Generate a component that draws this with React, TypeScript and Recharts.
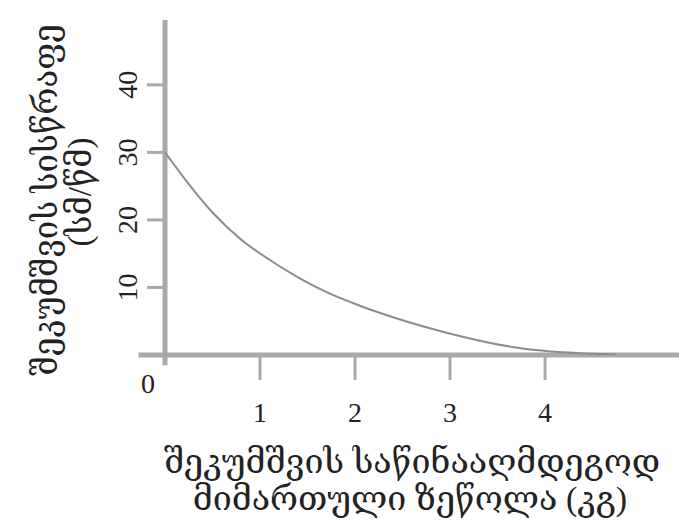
import { LineChart, Line, XAxis, YAxis, ReferenceLine, Label } from 'recharts'

// force applied against compression (kg) vs compression speed (cm/s)
const forceKg = [0, 0.25, 0.5, 0.8, 1.1, 1.4, 1.7, 2.05, 2.4, 2.75, 3.1, 3.45, 3.8, 4.2, 4.75]
const speedCm = [30, 25.3, 21.1, 17.1, 14.1, 11.5, 9.3, 7.3, 5.6, 4.1, 2.8, 1.7, 0.9, 0.4, 0.05]
const xTicks = [0, 1, 2, 3, 4]
const yTicks = [10, 20, 30, 40]
const xTitle = ['შეკუმშვის საწინააღმდეგოდ', 'მიმართული ზეწოლა (კგ)']
const yTitle = ['შეკუმშვის სისწრაფე', '(სმ/წმ)']

const data = forceKg.map((f, i) => ({ f, v: speedCm[i] }))

const FONT = "'Liberation Serif', 'DejaVu Serif', serif"
const AXIS = '#a9a9a9'
const INK = '#222'

const XTick = ({ x, y, payload }: any) => {
  if (payload.value === 0) {
    return (
      <text x={x - 17} y={y + 28} textAnchor="middle" dominantBaseline="central" fontSize={28} fill={INK} fontFamily={FONT}>
        0
      </text>
    )
  }
  return (
    <g>
      <line x1={x} x2={x} y1={y} y2={y + 25} stroke={AXIS} strokeWidth={3} />
      <text x={x} y={y + 57} textAnchor="middle" dominantBaseline="central" fontSize={28} fill={INK} fontFamily={FONT}>
        {payload.value}
      </text>
    </g>
  )
}

const YTick = ({ x, y, payload }: any) => (
  <g>
    <line x1={x - 18} x2={x} y1={y} y2={y} stroke={AXIS} strokeWidth={3} />
    <text
      x={x - 37}
      y={y}
      textAnchor="middle"
      dominantBaseline="central"
      fontSize={28}
      fill={INK}
      fontFamily={FONT}
      transform={`rotate(-90 ${x - 37} ${y})`}
    >
      {payload.value}
    </text>
  </g>
)

const XTitle = () => (
  <text textAnchor="middle" fontSize={34} fill={INK} fontFamily={FONT}>
    <tspan x={412} y={473}>{xTitle[0]}</tspan>
    <tspan x={410} y={510}>{xTitle[1]}</tspan>
  </text>
)

const YTitle = () => (
  <text textAnchor="middle" fontSize={33} fill={INK} fontFamily={FONT} transform="rotate(-90)">
    <tspan x={-200} y={57}>{yTitle[0]}</tspan>
    <tspan x={-192} y={91}>{yTitle[1]}</tspan>
  </text>
)

export default function App() {
  return (
    <div style={{ position: 'absolute', left: 0, top: 0, background: '#fff' }}>
      <LineChart width={679} height={530} data={data} margin={{ top: 20, right: 0, bottom: 0, left: 0 }}>
        <XAxis
          dataKey="f"
          type="number"
          domain={[0, 5.41]}
          ticks={xTicks}
          allowDataOverflow
          axisLine={false}
          tickLine={false}
          tickSize={0}
          tickMargin={0}
          height={175}
          tick={<XTick />}
          interval={0}
        >
          <Label content={<XTitle />} />
        </XAxis>
        <YAxis
          type="number"
          domain={[0, 49.6]}
          ticks={yTicks}
          allowDataOverflow
          axisLine={false}
          tickLine={false}
          tickSize={0}
          tickMargin={0}
          width={165}
          tick={<YTick />}
          interval={0}
        >
          <Label content={<YTitle />} />
        </YAxis>
        <ReferenceLine
          segment={[{ x: 0, y: -1.5 }, { x: 0, y: 49.6 }]}
          stroke={AXIS}
          strokeWidth={5}
          ifOverflow="visible"
        />
        <ReferenceLine
          segment={[{ x: -0.28, y: 0 }, { x: 5.41, y: 0 }]}
          stroke={AXIS}
          strokeWidth={5}
          ifOverflow="visible"
        />
        <Line
          type="monotone"
          dataKey="v"
          stroke="#8c8c8c"
          strokeWidth={2}
          dot={false}
          isAnimationActive={false}
        />
      </LineChart>
    </div>
  )
}
